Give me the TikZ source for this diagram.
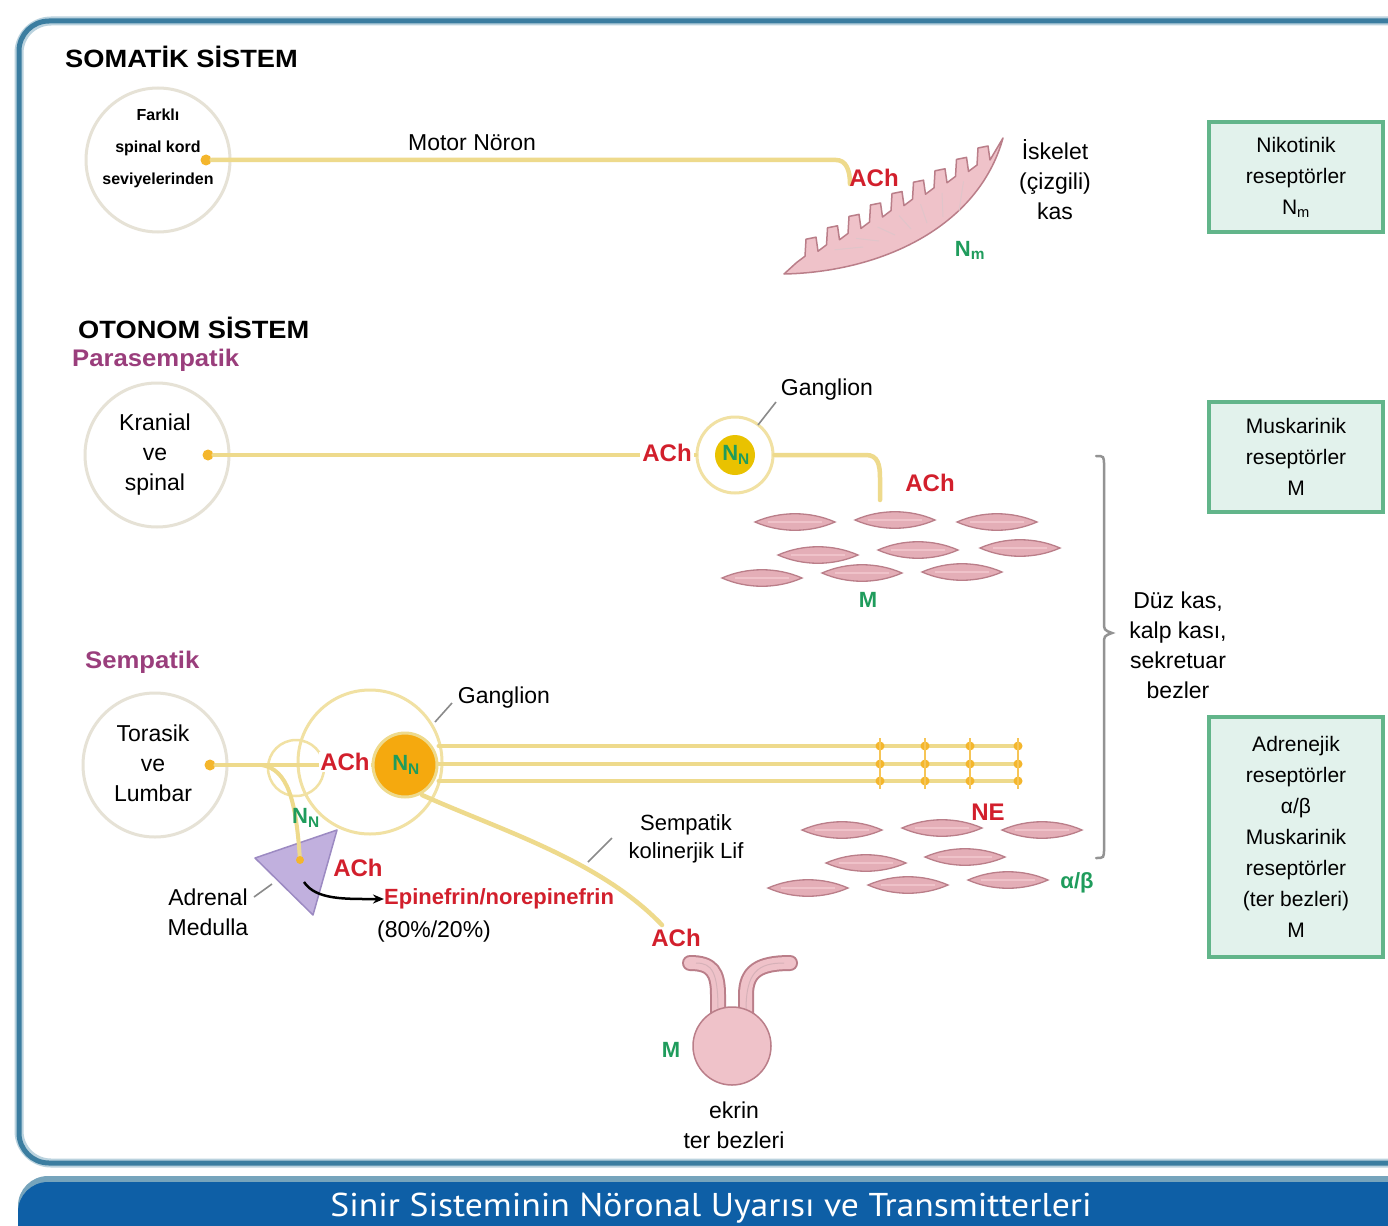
\documentclass[tikz,border=0pt]{standalone}
\usepackage{fontspec}
\setmainfont{Liberation Sans}
\newfontfamily\bannerfont{PT Sans}
\usetikzlibrary{arrows.meta}

\definecolor{framecol}{HTML}{3B7DA0}
\definecolor{bannercol}{HTML}{0E5FA6}
\definecolor{fib}{HTML}{EEDA8C}
\definecolor{dotcol}{HTML}{F4B62C}
\definecolor{ring}{HTML}{E6E2D6}
\definecolor{ntred}{HTML}{D21F2C}
\definecolor{rcgreen}{HTML}{1F9C5C}
\definecolor{purp}{HTML}{9A3E7C}
\definecolor{boxfill}{HTML}{E2F2EC}
\definecolor{boxline}{HTML}{62B58A}
\definecolor{pinkfill}{HTML}{EFC2C9}
\definecolor{spfill}{HTML}{E4AEB7}
\definecolor{pinkdk}{HTML}{BA7E89}
\definecolor{adfill}{HTML}{C1B0DE}
\definecolor{addk}{HTML}{9C8AC2}
\definecolor{ganyel}{HTML}{E9C200}
\definecolor{ganorg}{HTML}{F5A90E}
\definecolor{leader}{HTML}{8A8A8A}

\tikzset{
  lbl/.style={font=\fontsize{23}{30}\selectfont, align=center, inner sep=0pt},
  small/.style={font=\bfseries\fontsize{16}{32}\selectfont, align=center, inner sep=0pt},
  hd/.style={font=\bfseries\fontsize{25}{30}\selectfont, xscale=1.09, inner sep=0pt, anchor=west},
  sub/.style={font=\bfseries\fontsize{24}{30}\selectfont, xscale=1.07, text=purp, inner sep=0pt, anchor=west},
  nt/.style={font=\bfseries\fontsize{24}{28}\selectfont, text=ntred, inner sep=0pt},
  rc/.style={font=\bfseries\fontsize{22}{26}\selectfont, text=rcgreen, inner sep=0pt},
  fiber/.style={draw=fib, line width=4.5pt, line cap=round},
  origin/.style={circle, draw=ring, line width=3pt, fill=white, minimum size=144pt, inner sep=0pt},
  dot/.style={circle, fill=dotcol, minimum size=11pt, inner sep=0pt},
  rbox/.style={draw=boxline, line width=4pt, fill=boxfill, minimum width=174pt,
    align=center, font=\fontsize{21}{31}\selectfont},
  lead/.style={draw=leader, line width=1.6pt},
  spindle/.pic={
    \draw[draw=pinkdk, fill=spfill, line width=1.3pt]
      (-40,0) .. controls (-15,-11) and (15,-11) .. (40,0)
      .. controls (15,11) and (-15,11) .. (-40,0) -- cycle;
    \draw[draw=pinkfill, line width=1.5pt] (-27,0) -- (27,0);
  }
}

\begin{document}
\begin{tikzpicture}[x=1pt,y=-1pt]
\useasboundingbox (0,0) rectangle (1388,1225);
\clip (0,0) rectangle (1388,1225);
\fill[white] (0,0) rectangle (1388,1225);

% outer frame and title banner
\draw[framecol!35, line width=9pt, rounded corners=32pt] (19,21) rectangle (1430,1163);
\draw[framecol, line width=5pt, rounded corners=30pt] (19,21) rectangle (1430,1163);
\fill[framecol!70, rounded corners=30pt] (18,1176) rectangle (1430,1270);
\fill[bannercol, rounded corners=30pt] (18,1182) rectangle (1430,1270);
\node[text=white, font=\bannerfont\fontsize{33}{36}\selectfont, xscale=1.08, inner sep=0pt]
  (title) at (711,1208) {Sinir Sisteminin Nöronal Uyarısı ve Transmitterleri};

% ---------------- somatic system ----------------
\node[hd] (soma) at (65,57) {SOMATİK SİSTEM};
\node[origin] (c1) at (158,160) {};
\node[small] (c1t) at (158,148) {Farklı\\spinal kord\\seviyelerinden};
\node[dot] (d1) at (206,160) {};
\coordinate (nmj) at (850,184);
\draw[fiber] (d1) -- (836,160) .. controls (846,160) and (850,170) .. (nmj);
\node[lbl] (motor) at (472,143) {Motor Nöron};
\node[nt] (ach1) at (874,178) {ACh};

% skeletal muscle
\draw[draw=pinkdk, fill=pinkfill, line width=1.5pt, line join=round]
  (784,274) .. controls (880,272) and (978,228) .. (1003,138) -- (990,160)
  \foreach \i in {0,...,8} {
    -- ({990-21.5*\i-2},{160+11.4*\i-14})
    -- ({990-21.5*\i-12},{160+11.4*\i-12})
    -- ({990-21.5*\i-13},{160+11.4*\i+5})
    -- ({990-21.5*(\i+1)},{160+11.4*(\i+1)})
  } -- (784,274) -- cycle;
\foreach \i in {1,...,7}
  \draw[pinkdk!45, line width=1pt] ({985-21.5*\i},{170+11.4*\i}) -- ({975-16*\i},{205+6*\i});
\node[rc] (nm) at (970,250) {N\textsubscript{m}};
\node[lbl] (iskelet) at (1055,180) {İskelet\\(çizgili)\\kas};

\node[rbox, minimum height=110pt] (box1) at (1296,177) {Nikotinik\\reseptörler\\N\textsubscript{m}};

% ---------------- autonomic system ----------------
\node[hd] (oto) at (78,328) {OTONOM SİSTEM};
\node[sub] (para) at (72,360) {Parasempatik};

% parasympathetic pathway
\node[origin] (c2) at (157,455) {};
\node[lbl] (c2t) at (155,455) {Kranial\\ve\\spinal};
\node[dot] (d2) at (208,455) {};
\node[circle, draw=fib!80, line width=3pt, fill=white, minimum size=76pt] (pg) at (735,455) {};
\node[circle, fill=ganyel, minimum size=40pt, inner sep=0pt] (pgc) at (735,455) {};
\node[rc] (pgn) at (736,455) {N\textsubscript{N}};
\draw[fiber] (d2) -- (pg.west);
\node[nt, fill=white, inner sep=2pt] (ach2) at (667,453) {ACh};
\coordinate (pend) at (880,500);
\draw[fiber] (pg.east) -- (866,455) .. controls (878,455) and (880,465) .. (880,478) -- (pend);
\node[nt] (ach3) at (930,483) {ACh};
\node[lbl] (gang1) at (827,390) {Ganglion};
\draw[lead] (758,425) -- (776,402);

\foreach \p/\q in {795/522, 895/520, 997/522, 818/555, 918/550, 1020/548, 762/578, 862/573, 962/572}
  \pic at (\p,\q) {spindle};
\node[rc] (m1) at (868,600) {M};

% brace and target tissues
\draw[gray!85, line width=2.5pt, line cap=round]
  (1096,456) .. controls (1104,456) .. (1104,466) -- (1104,622)
  .. controls (1104,630) .. (1112,633) .. controls (1104,636) .. (1104,644)
  -- (1104,848) .. controls (1104,858) .. (1096,858);
\node[lbl] (duz) at (1178,645) {Düz kas,\\kalp kası,\\sekretuar\\bezler};

\node[rbox, minimum height=110pt] (box2) at (1296,457) {Muskarinik\\reseptörler\\M};
\node[rbox, minimum height=240pt] (box3) at (1296,837)
  {Adrenejik\\reseptörler\\α/β\\Muskarinik\\reseptörler\\(ter bezleri)\\M};

% sympathetic pathway
\node[sub] (symp) at (85,662) {Sempatik};
\node[origin] (c3) at (155,765) {};
\node[lbl] (c3t) at (153,763) {Torasik\\ve\\Lumbar};
\node[dot] (d3) at (210,765) {};
\node[circle, draw=fib!80, line width=3pt, minimum size=144pt] (sg) at (370,762) {};
\node[circle, draw=fib!80, line width=2.5pt, minimum size=56pt] (ring) at (296,768) {};
\node[circle, fill=ganorg, draw=fib, line width=3pt, minimum size=64pt] (sgc) at (405,765) {};
\node[rc] (sgn) at (406,765) {N\textsubscript{N}};
\draw[fiber] (d3) -- (372,765);
\node[nt, fill=white, inner sep=1pt] (ach4) at (345,762) {ACh};
\node[lbl] (gang2) at (504,698) {Ganglion};
\draw[lead] (435,722) -- (452,703);

% postganglionic adrenergic fibres with varicosities
\foreach \yy in {746,764,781} {
  \draw[fiber, line width=4pt] (sgc.east |- 0,\yy) -- (1020,\yy);
  \foreach \xx in {880,925,970,1018}
    \fill[dotcol] (\xx,\yy) circle (4.5pt);
}
\foreach \xx in {880,925,970,1018}
  \draw[dotcol!80, line width=1.5pt] (\xx,738) -- (\xx,789);
\node[nt] (ne) at (988,812) {NE};
\foreach \p/\q in {842/830, 942/828, 1042/830, 866/863, 965/857, 808/888, 908/885, 1008/880}
  \pic at (\p,\q) {spindle};
\node[rc] (ab) at (1077,883) {α/β};

% sympathetic cholinergic fibre to the sweat gland
\coordinate (swt) at (662,925);
\draw[fiber] (422,795) .. controls (500,830) and (600,860) .. (swt);
\node[lbl, font=\fontsize{22}{28}\selectfont] (kol) at (686,839) {Sempatik\\kolinerjik Lif};
\draw[lead] (588,862) -- (612,838);
\node[nt] (ach6) at (676,938) {ACh};

% adrenal medulla
\draw[draw=addk, fill=adfill, line width=1.5pt, line join=round]
  (255,858) -- (337,830) -- (313,915) -- cycle;
\coordinate (adr) at (300,860);
\draw[fiber, line width=4pt] (262,765) .. controls (288,770) and (296,800) .. (adr);
\fill[dotcol] (adr) circle (4pt);
\node[rc] (nn2) at (306,818) {N\textsubscript{N}};
\node[nt] (ach5) at (358,868) {ACh};
\node[lbl] (adm) at (208,912) {Adrenal\\Medulla};
\draw[lead] (254,897) -- (272,884);
\node[nt, font=\bfseries\fontsize{22}{26}\selectfont, anchor=west] (epi) at (384,899) {Epinefrin/norepinefrin};
\node[lbl] (pct) at (434,932) {(80\%/20\%)};
\draw[-{Stealth[length=11pt,width=9pt]}, line width=2.5pt] (304,882) .. controls (316,900) and (345,899) .. (epi.west);

% eccrine sweat gland
\foreach \w/\c in {16/pinkdk, 12/pinkfill} {
  \draw[\c, line width=\w pt, line cap=round] (690,963) .. controls (712,963) and (718,972) .. (718,995) -- (718,1015);
  \draw[\c, line width=\w pt, line cap=round] (790,963) .. controls (758,963) and (746,972) .. (746,995) -- (746,1015);
}
\draw[pinkdk!60, line width=1pt] (696,963) .. controls (712,963) and (718,972) .. (718,1010);
\draw[pinkdk!60, line width=1pt] (784,963) .. controls (758,963) and (746,972) .. (746,1010);
\node[circle, draw=pinkdk, fill=pinkfill, line width=1.5pt, minimum size=78pt] (bulb) at (732,1046) {};
\node[rc] (m2) at (671,1050) {M};
\node[lbl] (ekrin) at (734,1125) {ekrin\\ter bezleri};

\end{tikzpicture}
\end{document}
